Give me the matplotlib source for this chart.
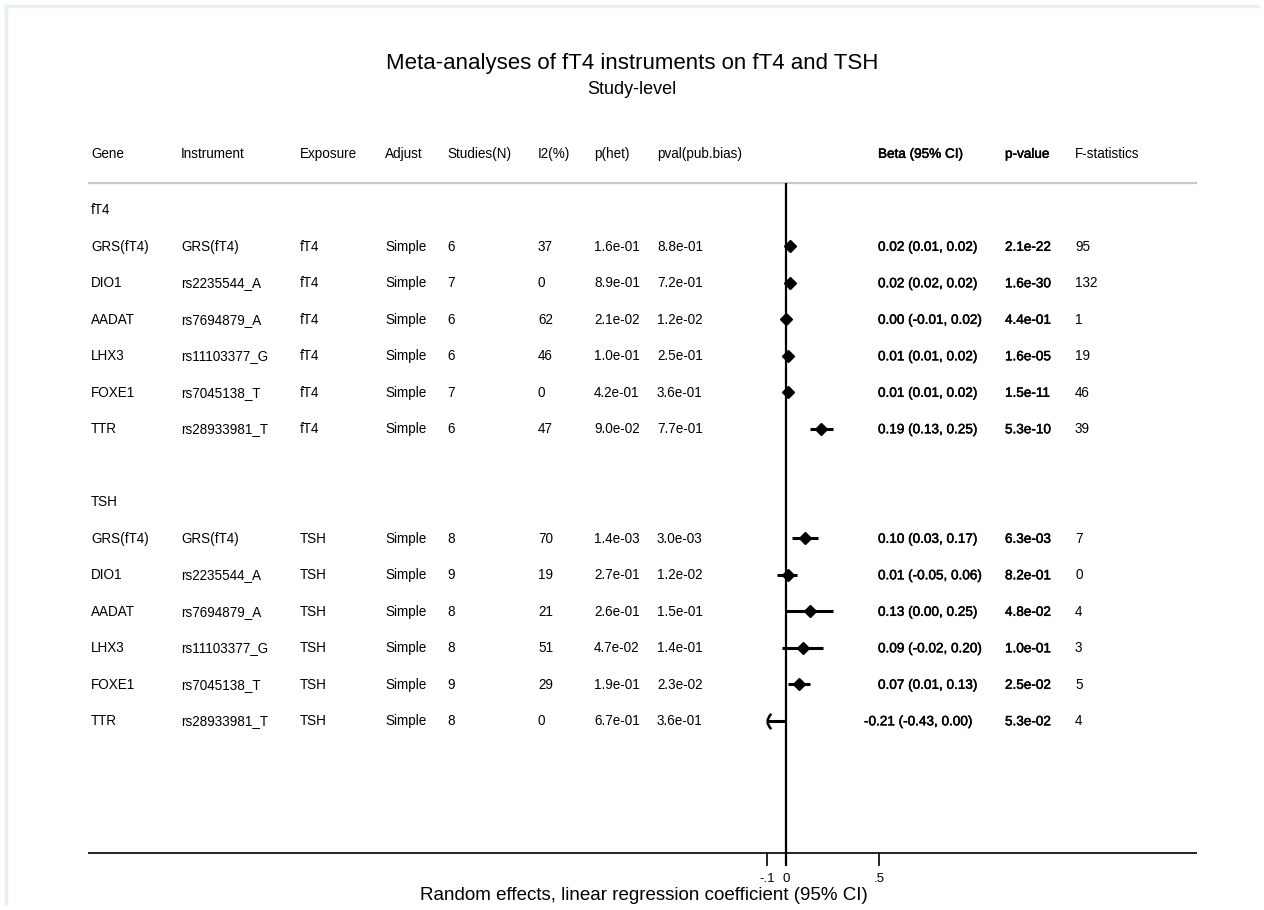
import matplotlib
matplotlib.use("Agg")
import matplotlib.pyplot as plt
import matplotlib.patheffects as pe
from matplotlib.path import Path
from matplotlib.transforms import blended_transform_factory

plt.rcParams["font.family"] = ["Liberation Sans", "DejaVu Sans"]

# ---- data ---------------------------------------------------------------
genes = ["GRS(fT4)", "DIO1", "AADAT", "LHX3", "FOXE1", "TTR"]
instruments = ["GRS(fT4)", "rs2235544_A", "rs7694879_A", "rs11103377_G",
               "rs7045138_T", "rs28933981_T"]
outcomes = ["fT4", "TSH"]
adjust = "Simple"

studies = {"fT4": [6, 7, 6, 6, 7, 6], "TSH": [8, 9, 8, 8, 9, 8]}
i2 = {"fT4": [37, 0, 62, 46, 0, 47], "TSH": [70, 19, 21, 51, 29, 0]}
p_het = {"fT4": ["1.6e-01", "8.9e-01", "2.1e-02", "1.0e-01", "4.2e-01", "9.0e-02"],
         "TSH": ["1.4e-03", "2.7e-01", "2.6e-01", "4.7e-02", "1.9e-01", "6.7e-01"]}
p_pub = {"fT4": ["8.8e-01", "7.2e-01", "1.2e-02", "2.5e-01", "3.6e-01", "7.7e-01"],
         "TSH": ["3.0e-03", "1.2e-02", "1.5e-01", "1.4e-01", "2.3e-02", "3.6e-01"]}
beta = {"fT4": [0.02, 0.02, 0.00, 0.01, 0.01, 0.19],
        "TSH": [0.10, 0.01, 0.13, 0.09, 0.07, -0.21]}
ci_lo = {"fT4": [0.01, 0.02, -0.01, 0.01, 0.01, 0.13],
         "TSH": [0.03, -0.05, 0.00, -0.02, 0.01, -0.43]}
ci_hi = {"fT4": [0.02, 0.02, 0.02, 0.02, 0.02, 0.25],
         "TSH": [0.17, 0.06, 0.25, 0.20, 0.13, 0.00]}
pval = {"fT4": ["2.1e-22", "1.6e-30", "4.4e-01", "1.6e-05", "1.5e-11", "5.3e-10"],
        "TSH": ["6.3e-03", "8.2e-01", "4.8e-02", "1.0e-01", "2.5e-02", "5.3e-02"]}
fstat = {"fT4": [95, 132, 1, 19, 46, 39], "TSH": [7, 0, 4, 3, 5, 4]}

xticks = [-0.1, 0, 0.5]
xticklabels = ["-.1", "0", ".5"]
x_min, x_max = -0.1, 0.5   # displayed effect range

headers = ["Gene", "Instrument", "Exposure", "Adjust", "Studies(N)", "I2(%)",
           "p(het)", "pval(pub.bias)"]
right_headers = ["Beta (95% CI)", "p-value", "F-statistics"]

# ---- layout -------------------------------------------------------------
W, H = 1264, 910
fig = plt.figure(figsize=(W / 100, H / 100), dpi=100)
ax = fig.add_axes([0, 0, 1, 1])

x0_px, px_per_unit = 786, 186           # horizontal position of zero, scale
row0_px, row_h = 209.5, 36.5            # first row, row spacing
ax.set_xlim(-x0_px / px_per_unit, (W - x0_px) / px_per_unit)
ax.set_ylim((H - row0_px) / row_h, -row0_px / row_h)
ax.axis("off")

def py(p):  # pixel row -> row units
    return (p - row0_px) / row_h

def fx(p):  # pixel column -> axes fraction
    return p / W

tr = blended_transform_factory(ax.transAxes, ax.transData)

left_cols = [91, 181, 300, 385, 447, 538, 594, 657]
right_cols = [878, 1005, 1075]
fs = 9.75
base_off = 4.8 / row_h          # baseline sits below the row centre
bold_fx = [pe.withStroke(linewidth=0.35, foreground="black")]

def cell(xpx, y, s, bold=False):
    ax.text(fx(xpx), y + base_off, s, transform=tr, ha="left", va="baseline",
            fontsize=fs, path_effects=bold_fx if bold else None)

# title
fig.text(0.5, 1 - 63 / H, "Meta-analyses of fT4 instruments on fT4 and TSH",
         ha="center", va="center", fontsize=16)
fig.text(0.5, 1 - 90 / H, "Study-level", ha="center", va="center", fontsize=13)

# faint outer frame
ax.plot([fx(6), fx(6)], [py(6), py(904)], transform=tr, color="#e9f0f0", lw=2.5,
        clip_on=False)
ax.plot([fx(6), fx(1258)], [py(6), py(6)], transform=tr, color="#e9f0f0", lw=2.5,
        clip_on=False)

# header row
hy = py(153)
for x, h in zip(left_cols, headers):
    cell(x, hy, h)
for i, (x, h) in enumerate(zip(right_cols, right_headers)):
    cell(x, hy, h, bold=i < 2)

# separator line below header
ax.plot([fx(88), fx(1197)], [py(183), py(183)], transform=tr, color="#c8c8c8",
        lw=1.6, solid_capstyle="butt")

# rows
row = 0
for out in outcomes:
    cell(91, row, out)
    row += 1
    for i in range(len(genes)):
        vals = [genes[i], instruments[i], out, adjust, str(studies[out][i]),
                str(i2[out][i]), p_het[out][i], p_pub[out][i]]
        for x, v in zip(left_cols, vals):
            cell(x, row, v)
        b = beta[out][i]
        btxt = f"{b:.2f} ({ci_lo[out][i]:.2f}, {ci_hi[out][i]:.2f})"
        cell(right_cols[0] - (14 if b < 0 else 0), row, btxt, bold=True)
        cell(right_cols[1], row, pval[out][i], bold=True)
        cell(right_cols[2], row, str(fstat[out][i]))

        lo, hi = ci_lo[out][i], ci_hi[out][i]
        lo_c, hi_c = max(lo, x_min), min(hi, x_max)
        ax.plot([lo_c, hi_c], [row, row], color="black", lw=2.2,
                solid_capstyle="butt", zorder=3)
        if lo < x_min:
            # truncated interval: open bracket at the edge of the range
            arc = Path([(0.5, 1.0), (-0.5, 0.0), (0.5, -1.0)],
                       [Path.MOVETO, Path.CURVE3, Path.CURVE3])
            ax.plot([x_min], [row], marker=arc, ms=11, mfc="none", mec="black",
                    mew=1.8, zorder=4)
        if x_min <= b <= x_max:
            ax.plot([b], [row], marker="D", ms=6.5, color="black", zorder=5)
        row += 1
    row += 1

# zero line and x axis
axis_y = py(853)
tick_end = py(866)
ax.plot([0, 0], [py(183), tick_end], color="black", lw=1.6,
        solid_capstyle="butt", zorder=2)
ax.plot([fx(88), fx(1197)], [axis_y, axis_y], transform=tr, color="black",
        lw=1.2, solid_capstyle="butt")
for t, lab in zip(xticks, xticklabels):
    ax.plot([t, t], [axis_y, tick_end], color="black", lw=1.2,
            solid_capstyle="butt")
    ax.text(t, py(879), lab, ha="center", va="center", fontsize=9.5)
ax.text(fx(644), py(895), "Random effects, linear regression coefficient (95% CI)",
        transform=tr, ha="center", va="center", fontsize=13.5)

fig.savefig("out.png", dpi=100, facecolor="white")
